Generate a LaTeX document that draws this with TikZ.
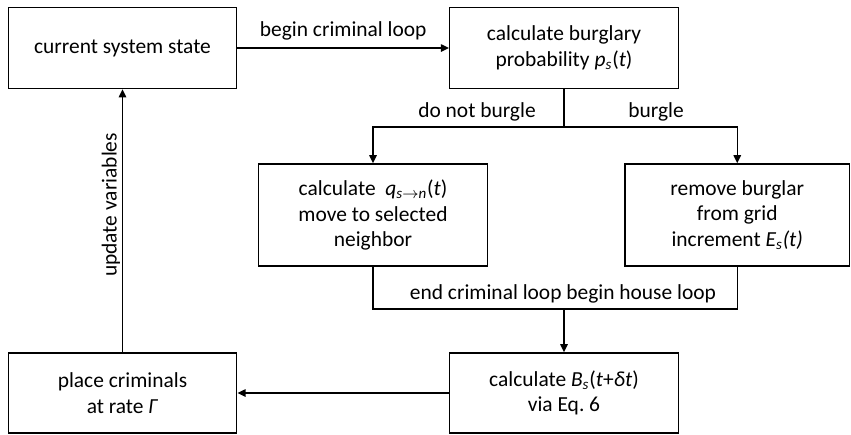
\documentclass[tikz,border=0pt]{standalone}
\usepackage{fontspec}
\setmainfont{Carlito}
\usetikzlibrary{positioning, arrows.meta, calc}
\tikzset{
  stepbox/.style={draw, line width=0.85pt, minimum width=4.57cm, minimum height=1.62cm,
    align=center, inner sep=2pt, font=\fontsize{12.2}{14.6}\selectfont},
  tallbox/.style={stepbox, minimum height=2.04cm},
  lbl/.style={draw=none, inner sep=1pt, font=\fontsize{12.2}{14.6}\selectfont},
  link/.style={line width=0.85pt}
}
\newcommand{\lowi}[1]{\textsubscript{\textit{#1}}}
\frenchspacing

\begin{document}
\begin{tikzpicture}[>={Triangle[width=4.2pt,length=4.6pt]}]

\useasboundingbox (0,0) rectangle (17.02,-8.68);

\node [stepbox] (state) at (2.45,-0.96) {current system state};
\node [stepbox] (prob) at (11.28,-0.96) {calculate burglary\\probability \textit{p}\lowi{s}(\textit{t})};
\node [tallbox] (move) at (7.46,-4.30) {calculate\ \ \textit{q}\textsubscript{\textit{s}$\to$\textit{n}}(\textit{t})\\move to selected\\neighbor};
\node [tallbox, minimum width=4.49cm] (remove) at (14.745,-4.30) {remove burglar\\from grid\\increment \textit{E\lowi{s}(t)}};
\node [stepbox, minimum height=1.6cm] (house) at (11.28,-7.86) {calculate \textit{B}\lowi{s}(\textit{t}+\textit{δt})\\via Eq. 6};
\node [stepbox, minimum height=1.6cm] (place) at (2.45,-7.86) {place criminals\\at rate \textit{Γ}};

\coordinate (split) at (11.28,-2.54);
\coordinate (join) at (11.28,-6.18);

\draw[->, link] (state) -- node[lbl, above=3pt] {begin criminal loop} (prob);

\draw[link] (prob.south) -- (split);
\draw[->, link] (split) -| (move.north);
\draw[->, link] (split) -| (remove.north);
\node [lbl] (nob) at (9.54,-2.24) {do not burgle};
\node [lbl] (yesb) at (13.12,-2.24) {burgle};

\draw[link] (move.south) |- (join) -| (remove.south);
\node [lbl] (endloop) at (11.26,-5.88) {end criminal loop begin house loop};
\draw[->, link] (join) -- (house.north);

\draw[->, link] (house) -- (place);
\draw[->, link] (place) -- node[lbl, rotate=90, above=9pt] {update variables} (state);

\end{tikzpicture}
\end{document}
